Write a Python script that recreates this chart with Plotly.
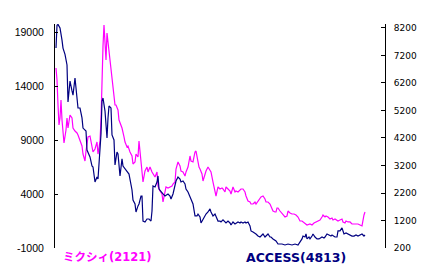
import plotly.graph_objects as go

# ---- data (week index, price) ----
mixi_t = [0, 0.5, 1, 1.5, 2, 2.5, 3, 3.5, 4, 5, 5.5, 6, 7, 8, 8.5, 9.5, 10.5, 11, 12, 13, 13.5, 14.5, 15, 15.5, 16, 17,
          18, 18.5, 19.5, 20.5, 21, 22, 22.5, 23, 23.5, 24, 24.5, 25, 25.5, 26.5, 27, 28, 28.5, 29.5, 30, 31, 31.5,
          32.5, 33, 34, 34.5, 35.5, 36, 37, 38, 38.5, 39.5, 40, 41, 41.5, 42, 43, 43.5, 44.5, 45.5, 46, 47, 48, 48.5,
          49.5, 50.5, 51, 52, 53, 53.5, 54, 55, 56, 57, 58, 58.5, 59.5, 60, 61, 62, 62.5, 63.5, 64.5, 65, 66, 67, 67.5,
          68.5, 69.5, 70, 71, 71.5, 72, 73, 73.5, 74.5, 75, 76, 77, 77.5, 78.5, 79.5, 80, 81, 82, 83, 83.5, 84.5, 85,
          86, 87, 87.5, 88.5, 89.5, 90, 91, 92, 92.5, 93.5, 94.5, 95, 96, 97, 97.5, 98.5, 99.5, 100, 101, 102, 102.5,
          103.5, 104.5, 105, 106, 107, 107.5, 108.5, 109.5, 110, 110.5, 111, 112, 113, 114, 114.5, 115.5, 116, 117,
          118, 119, 120, 121, 122, 123, 123.5, 124.5, 125.5, 127, 128, 129, 130, 131, 132, 133, 133.5, 134.5, 135,
          136, 137, 138, 138.5, 139.5, 140.5, 141, 142, 143, 143.5, 144.5, 145, 146, 147, 148, 149, 150, 151, 152,
          153, 154, 154.5]
mixi_v = [15670, 14560, 12240, 10390, 11040, 12700, 10850, 9460, 8720, 9925, 11040, 10110, 11315, 11040, 10110, 9830,
          9650, 9460, 8910, 8445, 7700, 7055, 7980, 8910, 9280, 9370, 8350, 7890, 8165, 8815, 7700, 8910, 10850,
          15020, 17700, 19650, 17800, 16410, 18910, 17330, 16220, 15020, 14000, 12240, 12240, 11780, 10850, 10300,
          10110, 9280, 8815, 8350, 8445, 7890, 7520, 6780, 6965, 7700, 7425, 8910, 8075, 6500, 5110, 6130, 6500,
          6040, 6500, 6040, 5850, 5575, 6040, 4740, 4280, 4000, 3260, 3720, 4650, 4555, 4650, 4740, 4925, 5110,
          6315, 6965, 6595, 6130, 6040, 5665, 6040, 6500, 7520, 7055, 6965, 7890, 7980, 6780, 6500, 6315, 5850,
          5205, 5850, 6130, 6500, 6130, 6040, 5110, 4000, 3815, 4650, 4465, 4555, 4465, 4185, 4650, 4465, 4280,
          4000, 4650, 4185, 4280, 4185, 4370, 4465, 4465, 4185, 3815, 3350, 3260, 3075, 3075, 3260, 3075, 3350,
          3535, 3720, 3815, 3535, 3260, 3260, 3075, 2795, 2425, 2335, 2335, 2705, 2705, 2425, 2240, 2055, 1870,
          1965, 2425, 2240, 2150, 2150, 2055, 1870, 1500, 1500, 1410, 1315, 1130, 1220, 1130, 1315, 1410, 1500,
          1595, 1870, 2055, 1870, 1965, 1870, 1685, 1780, 1595, 1685, 1595, 1500, 1595, 1685, 1410, 1315, 1500,
          1410, 1410, 1220, 1220, 1220, 1220, 1130, 1040, 2055, 2335]

access_t = [0, 0.5, 1, 2, 3, 3.5, 4.5, 5.5, 6, 7, 8, 8.5, 9.5, 10.5, 11, 12, 13, 13.5, 15, 15.5, 17, 18, 18.5, 19.5,
            20.5, 21, 21.5, 22.5, 23, 23.5, 24.5, 25.5, 26, 26.5, 27.5, 28, 29, 29.5, 30.5, 31, 32, 33, 33.5, 34.5,
            35.5, 36.5, 38, 38.5, 39.5, 40, 41, 41.5, 42.5, 43, 43.5, 44.5, 45.5, 46.5, 47.5, 48, 48.5, 49.5, 50.5,
            51, 51.5, 52.5, 53.5, 54.5, 55.5, 56, 57, 57.5, 58.5, 59.5, 60, 61, 62, 62.5, 63.5, 64.5, 65, 66, 67,
            67.5, 68.5, 69.5, 70.5, 71, 72, 72.5, 73.5, 74.5, 75, 76, 77, 77.5, 78.5, 79.5, 80, 81, 82, 82.5, 83.5,
            84.5, 85, 86, 87, 87.5, 88.5, 89.5, 90, 91, 92, 92.5, 93.5, 94.5, 95, 96, 97, 97.5, 98.5, 99.5, 100,
            101, 102, 102.5, 103.5, 104.5, 105, 106, 107, 107.5, 108.5, 109.5, 110, 111, 112, 113, 114.5, 116, 118,
            119.5, 121, 122, 123, 123.5, 124.5, 125, 125.5, 126.5, 127, 128, 128.5, 129.5, 130.5, 131.5, 132.5, 133,
            134, 134.5, 135.5, 136.5, 137.5, 138, 139, 139.5, 140.5, 141, 142, 143, 143.5, 144, 145, 146, 147, 148,
            149, 150, 151, 152, 153, 154, 154.5]
access_v = [7470, 8300, 8330, 8200, 7760, 7470, 7240, 6855, 5510, 6270, 5910, 5760, 6380, 5655, 5290, 5290, 4930,
            4560, 4455, 3760, 3510, 3180, 3145, 2600, 2780, 2710, 3365, 4345, 5545, 5655, 5180, 4200, 4930, 5365,
            5290, 4310, 4130, 3220, 3690, 3620, 2820, 3440, 3180, 3075, 2965, 2890, 2310, 1945, 1800, 1510, 1730,
            1800, 2090, 2090, 1180, 1145, 1255, 1255, 1180, 1545, 2455, 2420, 2600, 2820, 2345, 2235, 2165, 2090,
            2130, 2165, 2090, 1980, 2165, 2455, 2635, 2780, 2710, 2600, 2635, 2530, 2345, 2235, 2055, 1910, 1800,
            1365, 1365, 1435, 1330, 1110, 1255, 1365, 1435, 1510, 1620, 1510, 1365, 1435, 1330, 1180, 1180, 1145,
            1220, 1145, 1110, 1180, 1110, 1035, 1145, 1075, 1110, 1145, 1110, 1145, 1110, 1145, 1110, 1145, 1000,
            820, 780, 745, 710, 635, 600, 635, 710, 600, 635, 710, 600, 600, 530, 490, 455, 345, 345, 345, 310, 345,
            310, 345, 310, 420, 530, 635, 600, 710, 530, 600, 530, 635, 710, 600, 530, 530, 565, 600, 565, 600, 710,
            675, 635, 675, 635, 600, 600, 820, 820, 930, 820, 710, 745, 710, 675, 635, 635, 675, 635, 675, 710, 635,
            675]

left_ticks = [19000, 14000, 9000, 4000, -1000]
left_tick_text = ["19000", "14000", "9000", "4000", "-1000"]
right_ticks = [8200, 7200, 6200, 5200, 4200, 3200, 2200, 1200, 200]
right_tick_text = ["8200", "7200", "6200", "5200", "4200", "3200", "2200", "1200", "200"]

mixi_name = "ミクシィ(2121)"
access_name = "ACCESS(4813)"

fig = go.Figure()
fig.add_trace(go.Scatter(x=mixi_t, y=mixi_v, mode="lines", name=mixi_name,
                         line=dict(color="#FF00FF", width=1.2), yaxis="y"))
fig.add_trace(go.Scatter(x=access_t, y=access_v, mode="lines", name=access_name,
                         line=dict(color="#000080", width=1.2), yaxis="y2"))

fig.update_layout(
    width=433, height=272,
    margin=dict(l=55, r=48, t=24, b=24),
    paper_bgcolor="white", plot_bgcolor="white",
    showlegend=False,
    xaxis=dict(visible=False, range=[-0.5, 164.5]),
    yaxis=dict(range=[-1000, 19741], tickvals=left_ticks, ticktext=left_tick_text,
               showgrid=False, zeroline=False, showline=True, linecolor="black", linewidth=1,
               ticks="inside", ticklen=3, tickcolor="black",
               tickfont=dict(family="Liberation Sans", size=10.5, color="black"),
               ticklabelstandoff=8),
    yaxis2=dict(range=[200, 8345], tickvals=right_ticks, ticktext=right_tick_text,
                overlaying="y", side="right", anchor="x",
                showgrid=False, zeroline=False, showline=True, linecolor="black", linewidth=1,
                ticks="inside", ticklen=4, tickcolor="black",
                tickfont=dict(family="DejaVu Sans", size=9, color="black"),
                ticklabelstandoff=6),
)

fig.add_annotation(text="<b>" + mixi_name + "</b>", xref="paper", yref="paper",
                   x=(61 - 55) / 330, y=-(257 - 248) / 224, xanchor="left", yanchor="middle",
                   showarrow=False, font=dict(family="DejaVu Sans, Noto Sans CJK JP", size=11.5, color="#FF00FF"))
fig.add_annotation(text="<b>" + access_name + "</b>", xref="paper", yref="paper",
                   x=(244 - 55) / 330, y=-(257 - 248) / 224, xanchor="left", yanchor="middle",
                   showarrow=False, font=dict(family="DejaVu Sans", size=12.5, color="#000080"))

fig.write_html("out.html")
